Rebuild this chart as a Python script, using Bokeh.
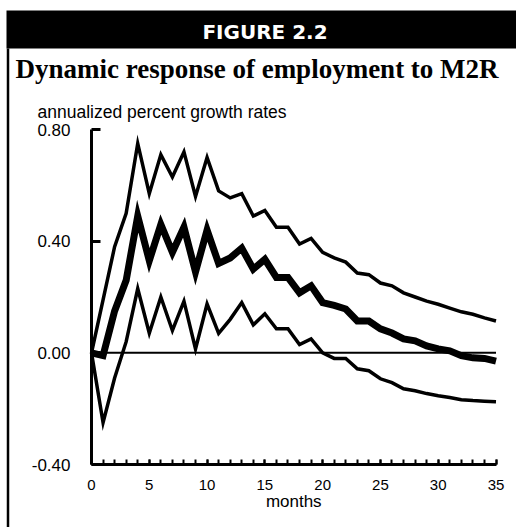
from bokeh.plotting import figure
from bokeh.models import Range1d, LinearAxis, FixedTicker, PrintfTickFormatter
from bokeh.core.properties import value
from bokeh.embed import file_html
from bokeh.resources import INLINE

# ---------------- data ----------------
months = list(range(36))
upper = [0.0, 0.19, 0.38, 0.50, 0.75, 0.57, 0.71, 0.63, 0.72, 0.56, 0.70, 0.58,
         0.555, 0.57, 0.49, 0.51, 0.45, 0.45, 0.39, 0.41, 0.36, 0.34, 0.325, 0.286,
         0.28, 0.25, 0.24, 0.215, 0.20, 0.185, 0.174, 0.16, 0.147, 0.138, 0.125, 0.114]
middle = [0.0, -0.01, 0.15, 0.26, 0.49, 0.33, 0.46, 0.36, 0.45, 0.29, 0.44, 0.32,
          0.34, 0.375, 0.30, 0.335, 0.27, 0.27, 0.215, 0.24, 0.18, 0.17, 0.157, 0.114,
          0.114, 0.086, 0.071, 0.05, 0.043, 0.025, 0.014, 0.007, -0.01, -0.018, -0.02, -0.03]
lower = [0.0, -0.25, -0.09, 0.04, 0.23, 0.07, 0.20, 0.08, 0.185, 0.014, 0.175, 0.07,
         0.12, 0.18, 0.10, 0.14, 0.086, 0.086, 0.03, 0.05, 0.0, -0.02, -0.02, -0.057,
         -0.064, -0.093, -0.107, -0.129, -0.136, -0.146, -0.154, -0.16, -0.168, -0.171,
         -0.173, -0.175]
x_ticks = [0, 5, 10, 15, 20, 25, 30, 35]
y_ticks = [-0.40, 0.00, 0.40, 0.80]
header_text = "FIGURE 2.2"
title_text = "Dynamic response of employment to M2R"
y_title = "annualized percent growth rates"
x_title = "months"

# ---------------- layout ----------------
W, H = 516, 527
PX_X0, PX_X1 = 91.0, 495.5   # pixel x of first / last month
PX_YB, PX_YT = 464.0, 129.0  # pixel y of lowest / highest tick
xmin, xmax = months[0], months[-1]
ymin, ymax = y_ticks[0], y_ticks[-1]
sx = (PX_X1 - PX_X0) / (xmax - xmin)
sy = (PX_YB - PX_YT) / (ymax - ymin)
x_lo = xmin - PX_X0 / sx
x_hi = xmax + (W - PX_X1) / sx
y_hi = ymax + PX_YT / sy
y_lo = ymin - (H - PX_YB) / sy


def dx(px):
    return x_lo + px / sx


def dy(py):
    return y_hi - py / sy


p = figure(width=W, height=H, x_range=Range1d(x_lo, x_hi), y_range=Range1d(y_lo, y_hi),
           x_axis_type=None, y_axis_type=None, toolbar_location=None,
           output_backend="svg", min_border=0, title=None)
p.outline_line_color = None
p.background_fill_color = "white"
p.border_fill_color = "white"

SANS = value("Liberation Sans")

# header bar
p.quad(left=[dx(6)], right=[dx(W)], top=[dy(10)], bottom=[dy(48)],
       fill_color="black", line_color=None)
p.text(x=[dx(264.5)], y=[dy(31.5)], text=[header_text], text_color="white",
       text_font=value("DejaVu Sans"), text_font_style="bold", text_font_size="20px",
       text_align="center", text_baseline="middle")

# title
p.text(x=[dx(256.5)], y=[dy(68.5)], text=[title_text], text_color="black",
       text_font=value("Liberation Serif"), text_font_style="bold", text_font_size="27px",
       text_align="center", text_baseline="middle")

# left frame line
p.segment(x0=[dx(7.5)], x1=[dx(7.5)], y0=[dy(48)], y1=[dy(H)], line_color="black", line_width=2.5)

# axis titles
p.text(x=[dx(37)], y=[dy(111)], text=[y_title], text_color="black", text_font=SANS,
       text_font_size="17.5px", text_align="left", text_baseline="middle")
p.text(x=[(xmin + xmax) / 2], y=[dy(500.5)], text=[x_title], text_color="black", text_font=SANS,
       text_font_size="17px", text_align="center", text_baseline="middle")

# zero line
p.segment(x0=[xmin], x1=[xmax], y0=[0], y1=[0], line_color="black", line_width=2)

# series
p.line(months, upper, line_color="black", line_width=3.5, line_join="miter")
p.line(months, lower, line_color="black", line_width=3.5, line_join="miter")
p.line(months, middle, line_color="black", line_width=7, line_join="miter")

# axes
yaxis = LinearAxis(fixed_location=xmin, bounds=(ymin, ymax),
                   ticker=FixedTicker(ticks=y_ticks),
                   formatter=PrintfTickFormatter(format="%.2f"))
yaxis.axis_line_width = 3
yaxis.axis_line_color = "black"
yaxis.major_tick_in = 9
yaxis.major_tick_out = 0
yaxis.major_tick_line_width = 3
yaxis.minor_tick_in = 0
yaxis.minor_tick_out = 0
yaxis.major_label_standoff = 21
yaxis.major_label_text_font = "Liberation Sans"
yaxis.major_label_text_font_size = "17px"
yaxis.major_label_text_color = "black"
p.add_layout(yaxis, "left")

xaxis = LinearAxis(fixed_location=ymin, bounds=(xmin, xmax),
                   ticker=FixedTicker(ticks=x_ticks, minor_ticks=months))
xaxis.axis_line_width = 3
xaxis.axis_line_color = "black"
xaxis.major_tick_in = 5
xaxis.major_tick_out = 0
xaxis.major_tick_line_width = 2
xaxis.minor_tick_in = 5
xaxis.minor_tick_out = 0
xaxis.minor_tick_line_width = 2
xaxis.major_label_standoff = 15
xaxis.major_label_text_font = "Liberation Sans"
xaxis.major_label_text_font_size = "15px"
xaxis.major_label_text_color = "black"
p.add_layout(xaxis, "below")

open("out.html", "w").write(file_html(p, INLINE))
